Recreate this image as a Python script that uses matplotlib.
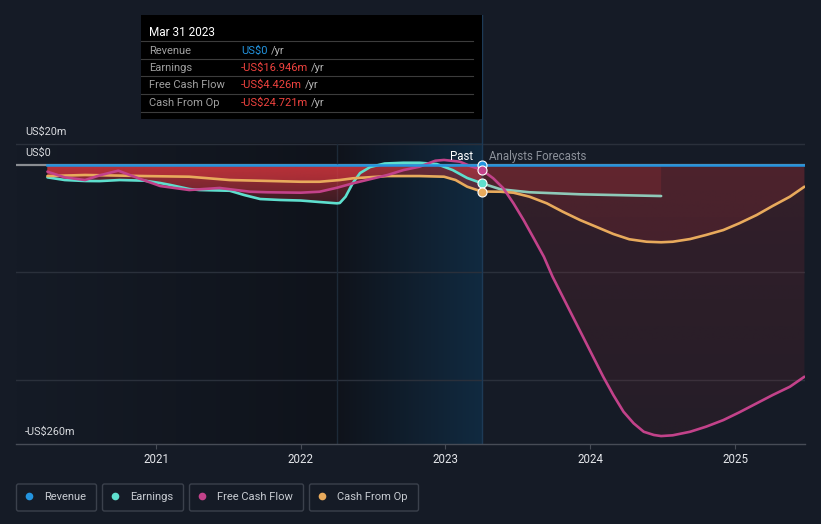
"""
Revenue / earnings / cash flow history and analyst forecasts (US$m).
Dark dashboard style chart with a hover tooltip frozen at Mar 31 2023.
"""
import numpy as np
import matplotlib.pyplot as plt
from matplotlib.patches import Rectangle, FancyBboxPatch
from matplotlib.colors import to_rgb
from matplotlib.transforms import IdentityTransform

plt.rcParams['font.family'] = ['Roboto', 'DejaVu Sans']

W, H = 821, 524
BG = '#151b26'
C_REV = '#2394df'
C_EARN = '#5edfce'
C_EARN_FC = '#8ec9b8'
C_FCF = '#c2428a'
C_CFO = '#e8aa5c'
FILL_RED = '#d8373f'

# --- data (decimal years, US$m) ---
revenue_t = [2020.25, 2023.25, 2025.48]
revenue_v = [0, 0, 0]

earnings_past_t = [2020.25, 2020.37, 2020.51, 2020.61, 2020.75, 2020.92, 2021.03, 2021.10,
                   2021.23, 2021.30, 2021.51, 2021.61, 2021.72, 2021.86, 2022.00, 2022.13,
                   2022.25, 2022.27, 2022.31, 2022.36, 2022.41, 2022.48, 2022.58, 2022.71,
                   2022.82, 2022.94, 2023.05, 2023.15, 2023.25]
earnings_past_v = [-11.5, -14.0, -14.9, -15.0, -14.0, -14.6, -16.8, -18.6,
                   -22.4, -23.3, -24.0, -28.0, -31.7, -32.6, -33.1, -34.5,
                   -35.7, -35.4, -29.5, -16.8, -7.5, -1.9, 1.4, 2.1,
                   2.1, 0.9, -4.7, -12.1, -16.946]
earnings_fc_t = [2023.25, 2023.38, 2023.58, 2023.93, 2024.49]
earnings_fc_v = [-16.946, -22.6, -25.4, -27.3, -28.9]

fcf_past_t = [2020.25, 2020.37, 2020.51, 2020.62, 2020.74, 2020.88, 2021.03, 2021.23,
              2021.44, 2021.65, 2021.77, 2022.00, 2022.13, 2022.25, 2022.36, 2022.60,
              2022.71, 2022.82, 2022.93, 2022.99, 2023.10, 2023.17, 2023.25]
fcf_past_v = [-6.2, -11.5, -14.0, -9.3, -5.3, -12.4, -19.6, -23.3,
              -21.4, -24.9, -25.4, -25.8, -24.9, -21.2, -17.1, -9.3,
              -4.7, -1.6, 4.0, 4.7, 3.1, -0.9, -4.426]
fcf_fc_t = [2023.25, 2023.33, 2023.40, 2023.47, 2023.54, 2023.61, 2023.68, 2023.74,
            2023.81, 2023.88, 2023.95, 2024.02, 2024.09, 2024.16, 2024.23, 2024.30,
            2024.37, 2024.44, 2024.49, 2024.57, 2024.69, 2024.80, 2024.92, 2025.03,
            2025.15, 2025.26, 2025.38, 2025.48]
fcf_fc_v = [-4.426, -12.4, -21.7, -35.7, -51.3, -68.3, -85.5, -104.1,
            -122.7, -141.4, -160.0, -178.7, -197.3, -214.4, -229.9, -240.7,
            -248.6, -251.6, -252.6, -251.9, -248.6, -243.9, -237.7, -230.5,
            -222.1, -214.4, -206.6, -197.3]

cfo_past_t = [2020.25, 2020.51, 2020.92, 2021.23, 2021.51, 2021.79, 2022.00, 2022.13,
              2022.27, 2022.36, 2022.60, 2022.82, 2022.99, 2023.07, 2023.15, 2023.25]
cfo_past_v = [-10.3, -9.3, -10.3, -10.9, -14.0, -14.9, -15.6, -15.6,
              -14.0, -12.4, -10.3, -10.3, -10.9, -14.0, -20.2, -24.721]
cfo_fc_t = [2023.25, 2023.38, 2023.47, 2023.58, 2023.70, 2023.81, 2023.93, 2024.04,
            2024.16, 2024.27, 2024.39, 2024.49, 2024.57, 2024.69, 2024.80, 2024.92,
            2025.03, 2025.15, 2025.26, 2025.38, 2025.48]
cfo_fc_v = [-24.721, -24.9, -25.8, -29.5, -35.7, -43.5, -51.3, -57.5,
            -64.3, -69.2, -71.5, -72.0, -71.5, -69.0, -65.2, -60.6,
            -54.3, -46.6, -38.2, -29.5, -20.2]

y_gridlines = [20, -100, -200]
y_labels = [(20, 'US$20m'), (0, 'US$0'), (-260, '-US$260m')]
x_ticks = [2021, 2022, 2023, 2024, 2025]

tooltip_title = 'Mar 31 2023'
tooltip_rows = [('Revenue', 'US$0', C_REV),
                ('Earnings', '-US$16.946m', '#f0433f'),
                ('Free Cash Flow', '-US$4.426m', '#f0433f'),
                ('Cash From Op', '-US$24.721m', '#f0433f')]
legend_items = [('Revenue', C_REV), ('Earnings', C_EARN),
                ('Free Cash Flow', C_FCF), ('Cash From Op', C_CFO)]

X0, X1 = 2020.033, 2025.484
Y0, Y1 = -260, 139.8
HIGHLIGHT = (2022.25, 2023.25)
NOW = 2023.25


def px(x, y):
    """Pixel position (from top-left) to figure fraction."""
    return x / W, 1 - y / H


fig = plt.figure(figsize=(W / 100, H / 100), dpi=100, facecolor=BG)
ax = fig.add_axes([16 / W, (H - 444) / H, (805 - 16) / W, (444 - 15) / H])
ax.set_facecolor(BG)

# --- background shading: dark past, blue highlight band ---
bg = np.array(to_rgb(BG))
dark = np.array([15, 19, 27]) / 255
blue = np.array([17, 42, 64]) / 255
ramp = np.linspace(0, 1, 200)[None, :, None]
past_img = bg + (dark - bg) * ramp
ax.imshow(np.repeat(past_img, 2, axis=0), extent=[X0, HIGHLIGHT[0], Y0, 20],
          aspect='auto', zorder=0, interpolation='bilinear')
band_img = dark + (blue - dark) * ramp
ax.imshow(np.repeat(band_img, 2, axis=0), extent=[HIGHLIGHT[0], HIGHLIGHT[1], Y0, 20],
          aspect='auto', zorder=0, interpolation='bilinear')

# gridlines
for gy in y_gridlines:
    ax.axhline(gy, color='#2a303b', lw=1, zorder=0.5)
ax.axhline(0, color='#8a8d92', lw=1.6, zorder=0.6)
ax.plot([HIGHLIGHT[0]] * 2, [Y0, 20], color='#1d2a38', lw=1, zorder=0.6)
ax.axvline(NOW, color='#1d3a56', lw=1, zorder=0.6)


def gradient_fill(t, v, a_top, a_bot, depth):
    # red area between zero and the series, fading with depth
    band = ax.fill_between(t, 0, v, facecolor='none', edgecolor='none')
    levels = np.linspace(0, Y0, 520)
    img = np.zeros((520, 1, 4))
    img[:, 0, :3] = to_rgb(FILL_RED)
    img[:, 0, 3] = a_bot + (a_top - a_bot) * np.clip(1 + levels / depth, 0, 1)
    im = ax.imshow(img, extent=[min(t), max(t), Y0, 0], origin='upper',
                   aspect='auto', zorder=1, interpolation='bilinear')
    im.set_clip_path(band.get_paths()[0], transform=ax.transData)


for t, v in [(earnings_past_t, earnings_past_v), (fcf_past_t, fcf_past_v),
             (cfo_past_t, cfo_past_v)]:
    gradient_fill(t, v, 0.46, 0.18, 45)
for t, v in [(earnings_fc_t, earnings_fc_v), (fcf_fc_t, fcf_fc_v),
             (cfo_fc_t, cfo_fc_v)]:
    gradient_fill(t, v, 0.16, 0.08, 260)

# --- lines ---
line_kw = dict(lw=1.9, solid_capstyle='round', solid_joinstyle='round', zorder=3)
ax.plot(earnings_past_t, earnings_past_v, color=C_EARN, **line_kw)
ax.plot(earnings_fc_t, earnings_fc_v, color=C_EARN_FC, **line_kw)
ax.plot(cfo_past_t, cfo_past_v, color=C_CFO, **line_kw)
ax.plot(cfo_fc_t, cfo_fc_v, color=C_CFO, **line_kw)
ax.plot(fcf_past_t, fcf_past_v, color=C_FCF, **line_kw)
ax.plot(fcf_fc_t, fcf_fc_v, color=C_FCF, **line_kw)
ax.plot(revenue_t, revenue_v, color=C_REV, lw=1.8, zorder=3.5)

# markers at the "now" point
for val, col in [(revenue_v[1], C_REV), (earnings_past_v[-1], C_EARN),
                 (cfo_past_v[-1], C_CFO), (fcf_past_v[-1], C_FCF)]:
    ax.plot([NOW], [val], 'o', ms=6.5, mfc=col, mec='white', mew=0.8, zorder=4)

ax.annotate('Past', xy=(NOW, 0), xytext=(-9, 9), textcoords='offset pixels',
            color='white', fontsize=8.3, ha='right', va='center')
ax.annotate('Analysts Forecasts', xy=(NOW, 0), xytext=(7, 9), textcoords='offset pixels',
            color='#8c919a', fontsize=8.3, ha='left', va='center')

# y labels
for val, lab in y_labels:
    ax.annotate(lab, xy=(0, val), xycoords=ax.get_yaxis_transform(),
                xytext=(9, 12), textcoords='offset pixels',
                color='#d8dade', fontsize=7.8, ha='left', va='center')

ax.set_xlim(X0, X1)
ax.set_ylim(Y0, Y1)
ax.set_xticks(x_ticks)
ax.set_xticklabels([str(x) for x in x_ticks])
ax.set_yticks([])
ax.tick_params(axis='x', colors='#474c56', length=3.5, width=0.8, pad=3,
               labelsize=8.3, labelcolor='#e4e6ea')
for side in ['top', 'left', 'right']:
    ax.spines[side].set_visible(False)
ax.spines['bottom'].set_color('#474c56')
ax.spines['bottom'].set_linewidth(1)

# --- tooltip ---
fig.add_artist(Rectangle(px(141, 119), 341 / W, 104 / H, transform=fig.transFigure,
                         facecolor='black', edgecolor='none', zorder=5))
fig.text(*px(149, 31), tooltip_title, color='white', fontsize=8.5,
         va='center_baseline', zorder=6)
for sep_y in [41, 58.5, 76, 93.5, 111.5]:
    fig.add_artist(plt.Line2D([141 / W, 473 / W], [1 - sep_y / H] * 2,
                              transform=fig.transFigure, color='#3c3c3c', lw=0.8, zorder=6))
fig.canvas.draw()
renderer = fig.canvas.get_renderer()
for i, (label, value, col) in enumerate(tooltip_rows):
    row_y = 49.5 + i * 17.4
    fig.text(*px(149, row_y), label, color='#a0a0a0', fontsize=8,
             va='center_baseline', zorder=6)
    vt = fig.text(*px(241, row_y), value, color=col, fontsize=8,
                  va='center_baseline', zorder=6)
    bb = vt.get_window_extent(renderer)
    fig.text(bb.x1 / W + 3 / W, 1 - row_y / H, '/yr', color='#b5b5b5', fontsize=8,
             va='center_baseline', zorder=6)

# --- legend ---
boxes = [(16, 97), (102, 184), (189, 304), (309, 419)]
for (label, col), (bx0, bx1) in zip(legend_items, boxes):
    fig.add_artist(FancyBboxPatch((bx0 + 0.5, H - 511), bx1 - bx0 - 1, 27,
                                  boxstyle='round,pad=0,rounding_size=2',
                                  transform=IdentityTransform(), facecolor='none',
                                  edgecolor='#3b414c', lw=1))
    fig.add_artist(plt.Line2D([bx0 + 12.5], [H - 496], marker='o', ms=5.5, mfc=col,
                              mec='none', transform=IdentityTransform()))
    fig.text((bx0 + 28) / W, 1 - 496.5 / H, label, color='#c8ccd2', fontsize=8,
             va='center')

fig.savefig('out.png', dpi=100, facecolor=BG)
